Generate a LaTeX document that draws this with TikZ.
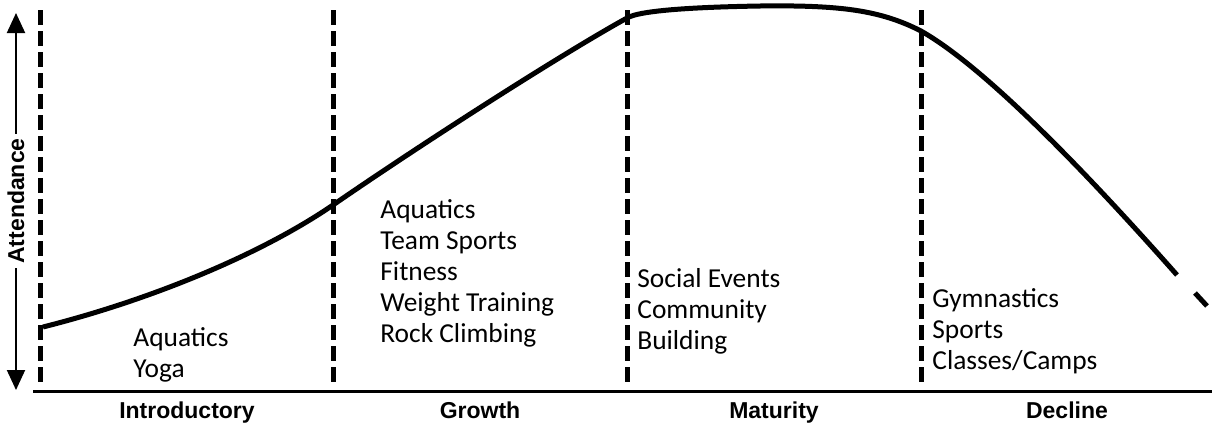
\documentclass[tikz,border=0pt]{standalone}
\usepackage{fontspec}
\newfontfamily\stagefont{Carlito}
\newfontfamily\axisfont{Liberation Sans}
\usetikzlibrary{arrows.meta}

\begin{document}
\begin{tikzpicture}[x=0.5pt,y=-0.5pt,>={Triangle[width=9pt,length=10pt]}]

% Styles for dividers and texts
\tikzset{divider/.style={line width=2.5pt, dash pattern=on 7.5pt off 3pt},
  activity/.style={font=\stagefont\fontsize{13.7}{15.5}\selectfont, align=left, anchor=base west, inner sep=0pt},
  phase/.style={font=\axisfont\bfseries\fontsize{11.5}{13}\selectfont, inner sep=0pt, anchor=base}}

\useasboundingbox (0,0) rectangle (1212,424);

% --- Vertical axis: attendance ---
\node[phase, anchor=center, rotate=90, inner sep=2pt] (att) at (16,201) {Attendance};
\coordinate (atttop) at (16,13);
\coordinate (attbot) at (16,390);
\draw[line width=1pt,->] (att.east) -- (atttop);
\draw[line width=1pt,->] (att.west) -- (attbot);

% --- Horizontal axis ---
\coordinate (axl) at (33,391);
\coordinate (axr) at (1212,391);
\draw[line width=1.5pt] (axl) -- (axr);

% Phase dividers
\foreach \x in {40,333,627,921}
  \draw[divider] (\x,10) -- (\x,388);

% Phase names
\node[phase] (intro) at (187,418) {Introductory};
\node[phase] (growth) at (480,418) {Growth};
\node[phase] (maturity) at (774,418) {Maturity};
\node[phase] (decline) at (1067,418) {Decline};

% --- Life cycle curve ---
\draw[line width=2.5pt, line join=round]
  (43,327) .. controls (150,300) and (260,255) .. (333,205)
  .. controls (420,145) and (560,55) .. (627,18)
  .. controls (640,10) and (700,7) .. (760,6)
  .. controls (840,5) and (880,10) .. (921,31)
  .. controls (990,70) and (1100,188) .. (1177,275);
\draw[line width=2.5pt] (1195,293) -- (1207,306);

% --- Activities per phase ---
\node[activity] (actintro) at (133,377) {Aquatics\\Yoga};
\node[activity] (actgrowth) at (380,342) {Aquatics\\Team Sports\\Fitness\\Weight Training\\Rock Climbing};
\node[activity] (actmaturity) at (637,349) {Social Events\\Community\\Building};
\node[activity] (actdecline) at (932,369) {Gymnastics\\Sports\\Classes/Camps};

\end{tikzpicture}
\end{document}
